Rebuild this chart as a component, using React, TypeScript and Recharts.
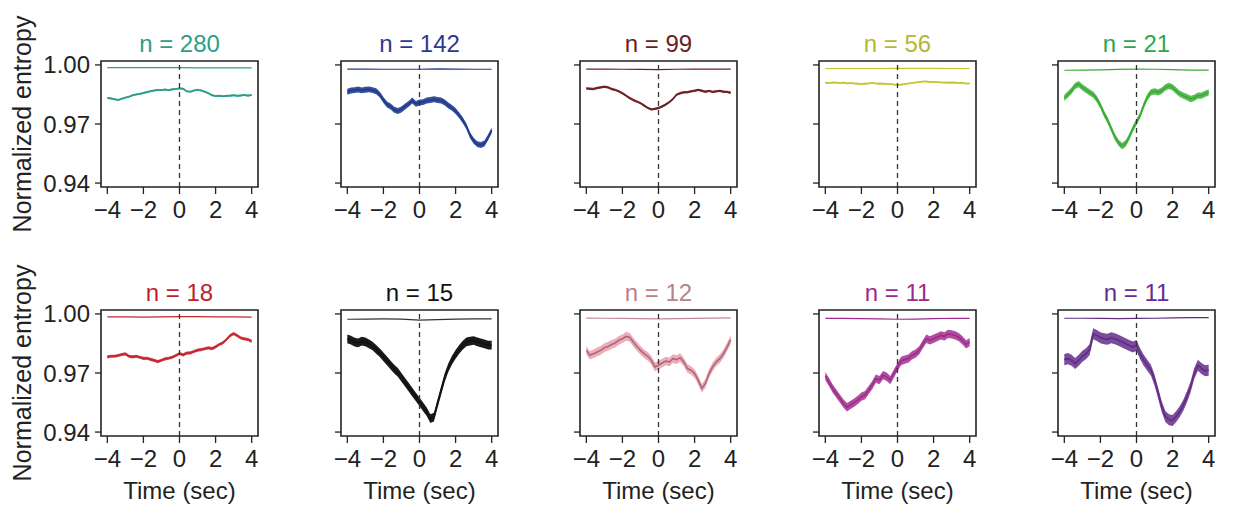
import React from 'react';
import {
  ComposedChart, Area, Line, XAxis, YAxis, ReferenceLine, ReferenceArea,
} from 'recharts';

// time grid (sec) for the mean traces, and a coarse grid for the shuffled baselines
const TIME = [
  -4, -3.8, -3.6, -3.4, -3.2, -3, -2.8, -2.6, -2.4, -2.2, -2, -1.8, -1.6, -1.4, -1.2, -1, -0.8, -0.6, -0.4, -0.2,
  0, 0.2, 0.4, 0.6, 0.8, 1, 1.2, 1.4, 1.6, 1.8, 2, 2.2, 2.4, 2.6, 2.8, 3, 3.2, 3.4, 3.6, 3.8, 4,
];
const BASE_TIME = [-4, -3, -2, -1, 0, 1, 2, 3, 4];
const X_TICKS = [-4, -2, 0, 2, 4];
const Y_TICKS = [0.94, 0.97, 1.0];
const COUNTS = [280, 142, 99, 56, 21, 18, 15, 12, 11, 11];

const meanTeal = [
  0.9832, 0.9830, 0.9826, 0.9822, 0.9828, 0.9834, 0.9838, 0.9846, 0.9850, 0.9853, 0.9857, 0.9862, 0.9866, 0.9870,
  0.9873, 0.9872, 0.9875, 0.9872, 0.9876, 0.9878, 0.9881, 0.9879, 0.9866, 0.9864, 0.9870, 0.9874, 0.9870, 0.9864,
  0.9856, 0.9846, 0.9842, 0.9843, 0.9841, 0.9843, 0.9844, 0.9846, 0.9843, 0.9845, 0.9847, 0.9844, 0.9848,
];
const meanBlue = [
  0.9864, 0.9870, 0.9872, 0.9875, 0.9871, 0.9874, 0.9876, 0.9872, 0.9866, 0.9849, 0.9822, 0.9799, 0.9789, 0.9772,
  0.9766, 0.9774, 0.9789, 0.9802, 0.9819, 0.9802, 0.9809, 0.9811, 0.9819, 0.9822, 0.9826, 0.9822, 0.9819, 0.9809,
  0.9794, 0.9782, 0.9766, 0.9744, 0.9719, 0.9688, 0.9643, 0.9615, 0.9598, 0.9593, 0.9601, 0.9632, 0.9668,
];
const meanMaroon = [
  0.9881, 0.9879, 0.9878, 0.9883, 0.9886, 0.9889, 0.9886, 0.9878, 0.9873, 0.9866, 0.9856, 0.9844, 0.9832, 0.9822,
  0.9814, 0.9806, 0.9794, 0.9782, 0.9774, 0.9777, 0.9781, 0.9789, 0.9799, 0.9811, 0.9827, 0.9849, 0.9856, 0.9861,
  0.9861, 0.9866, 0.9869, 0.9873, 0.9869, 0.9864, 0.9868, 0.9863, 0.9866, 0.9868, 0.9864, 0.9863, 0.9859,
];
const meanOlive = [
  0.9910, 0.9908, 0.9910, 0.9911, 0.9908, 0.9910, 0.9906, 0.9908, 0.9906, 0.9905, 0.9903, 0.9905, 0.9906, 0.9908,
  0.9906, 0.9905, 0.9905, 0.9903, 0.9903, 0.9901, 0.9898, 0.9900, 0.9903, 0.9906, 0.9908, 0.9911, 0.9913, 0.9916,
  0.9916, 0.9914, 0.9913, 0.9913, 0.9911, 0.9911, 0.9910, 0.9910, 0.9910, 0.9908, 0.9908, 0.9906, 0.9906,
];
const meanGreen = [
  0.9833, 0.9850, 0.9869, 0.9894, 0.9903, 0.9886, 0.9873, 0.9861, 0.9849, 0.9827, 0.9794, 0.9752, 0.9719, 0.9677,
  0.9635, 0.9605, 0.9588, 0.9601, 0.9635, 0.9677, 0.9710, 0.9744, 0.9794, 0.9836, 0.9861, 0.9866, 0.9861, 0.9869,
  0.9886, 0.9894, 0.9886, 0.9869, 0.9853, 0.9844, 0.9836, 0.9827, 0.9833, 0.9844, 0.9844, 0.9853, 0.9861,
];
const meanRed = [
  0.9782, 0.9785, 0.9785, 0.9789, 0.9794, 0.9797, 0.9785, 0.9782, 0.9785, 0.9780, 0.9774, 0.9775, 0.9769, 0.9764,
  0.9758, 0.9765, 0.9772, 0.9775, 0.9780, 0.9789, 0.9799, 0.9792, 0.9801, 0.9802, 0.9809, 0.9816, 0.9819, 0.9823,
  0.9828, 0.9824, 0.9833, 0.9845, 0.9853, 0.9870, 0.9890, 0.9900, 0.9890, 0.9878, 0.9873, 0.9870, 0.9861,
];
const meanBlack = [
  0.9873, 0.9867, 0.9857, 0.9853, 0.9862, 0.9858, 0.9848, 0.9837, 0.9820, 0.9803, 0.9782, 0.9762, 0.9740, 0.9720,
  0.9703, 0.9678, 0.9653, 0.9628, 0.9603, 0.9578, 0.9553, 0.9528, 0.9503, 0.9468, 0.9476, 0.9545, 0.9612, 0.9678,
  0.9728, 0.9765, 0.9795, 0.9820, 0.9842, 0.9858, 0.9862, 0.9865, 0.9858, 0.9853, 0.9848, 0.9842, 0.9842,
];
const meanPink = [
  0.9815, 0.9790, 0.9798, 0.9807, 0.9815, 0.9829, 0.9835, 0.9845, 0.9852, 0.9866, 0.9874, 0.9886, 0.9882, 0.9857,
  0.9835, 0.9815, 0.9798, 0.9785, 0.9765, 0.9731, 0.9739, 0.9751, 0.9761, 0.9756, 0.9773, 0.9768, 0.9778, 0.9756,
  0.9723, 0.9714, 0.9697, 0.9664, 0.9622, 0.9647, 0.9697, 0.9731, 0.9756, 0.9773, 0.9798, 0.9832, 0.9869,
];
const meanMagenta = [
  0.9684, 0.9655, 0.9622, 0.9597, 0.9571, 0.9546, 0.9526, 0.9538, 0.9550, 0.9563, 0.9580, 0.9588, 0.9613, 0.9639,
  0.9672, 0.9664, 0.9689, 0.9681, 0.9664, 0.9697, 0.9731, 0.9761, 0.9768, 0.9773, 0.9790, 0.9798, 0.9815, 0.9845,
  0.9874, 0.9866, 0.9874, 0.9882, 0.9891, 0.9886, 0.9899, 0.9896, 0.9891, 0.9882, 0.9866, 0.9845, 0.9857,
];
const meanPurple = [
  0.9768, 0.9773, 0.9765, 0.9748, 0.9765, 0.9785, 0.9798, 0.9818, 0.9899, 0.9891, 0.9879, 0.9874, 0.9871, 0.9879,
  0.9874, 0.9866, 0.9857, 0.9849, 0.9840, 0.9832, 0.9840, 0.9798, 0.9765, 0.9739, 0.9714, 0.9664, 0.9597, 0.9529,
  0.9479, 0.9462, 0.9459, 0.9479, 0.9504, 0.9538, 0.9580, 0.9630, 0.9697, 0.9739, 0.9723, 0.9711, 0.9714,
];

// shuffled-control baselines
const baseTeal = [0.9986, 0.9986, 0.9986, 0.9986, 0.9986, 0.9985, 0.9985, 0.9985, 0.9985];
const baseBlue = [0.9979, 0.9979, 0.9978, 0.9978, 0.9978, 0.998, 0.9979, 0.9978, 0.9978];
const baseMaroon = [0.9979, 0.9979, 0.9978, 0.9977, 0.9976, 0.9978, 0.9979, 0.9979, 0.9979];
const baseOlive = [0.9982, 0.9982, 0.9982, 0.9982, 0.9983, 0.9983, 0.9983, 0.9982, 0.9982];
const baseGreen = [0.9973, 0.9974, 0.9975, 0.9977, 0.9979, 0.9978, 0.9976, 0.9974, 0.9974];
const baseRed = [0.9985, 0.9985, 0.9984, 0.9985, 0.9986, 0.9986, 0.9985, 0.9985, 0.9984];
const baseBlack = [0.9973, 0.9974, 0.9975, 0.9974, 0.9969, 0.9971, 0.9974, 0.9975, 0.9975];
const basePink = [0.9979, 0.9978, 0.9977, 0.9976, 0.9975, 0.9976, 0.9977, 0.9979, 0.998];
const baseMagenta = [0.9977, 0.9977, 0.9976, 0.9975, 0.9973, 0.9974, 0.9976, 0.9978, 0.9977];
const basePurple = [0.9978, 0.9978, 0.9977, 0.9976, 0.9977, 0.9978, 0.998, 0.9981, 0.9981];

// s.e.m. half-width of each shaded band
const SEMS = [0.0005, 0.0015, 0.0006, 0.0004, 0.0016, 0.0008, 0.0022, 0.0022, 0.0021, 0.0028];

const MEANS = [meanTeal, meanBlue, meanMaroon, meanOlive, meanGreen, meanRed, meanBlack, meanPink, meanMagenta, meanPurple];
const BASES = [baseTeal, baseBlue, baseMaroon, baseOlive, baseGreen, baseRed, baseBlack, basePink, baseMagenta, basePurple];

const LINE_COLORS = ['#2a9d8a', '#24398a', '#6d1f24', '#c4c42c', '#3aaa35', '#c1272d', '#111111', '#a86a78', '#9e2a8a', '#5f2c82'];
const BAND_COLORS = ['#4fb3a2', '#34509e', '#843a3e', '#cfcf4e', '#5cbd56', '#d24a50', '#1a1a1a', '#eeabb8', '#b04fa0', '#7b4c9d'];
const TITLE_COLORS = ['#2e9c8a', '#2b3990', '#6b1d22', '#b5b833', '#2ba84a', '#be1e2d', '#111111', '#b98189', '#9b2b8c', '#662d91'];
const BASE_COLORS = ['#2a9d8a', '#24398a', '#6d1f24', '#c4c42c', '#3aaa35', '#c1272d', '#333333', '#c08a94', '#9e2a8a', '#5f2c82'];

const COL_LEFT = [0, 240, 479, 718, 957];
const ROW_TOP = [0, 249];
const X_DOMAIN: [number, number] = [-4.35, 4.35];
const Y_DOMAIN: [number, number] = [0.938, 1.002];
const FONT = 24;
const INK = '#222';

const fmtX = (v: number) => (v < 0 ? '\u2212' + Math.abs(v) : String(v));

const Panel = ({ idx }: { idx: number }) => {
  const row = Math.floor(idx / 5);
  const col = idx % 5;
  const mean = MEANS[idx];
  const sem = SEMS[idx];
  const rows = TIME.map((t, i) => ({ t, mean: mean[i], band: [mean[i] - sem, mean[i] + sem] }));
  const baseRows = BASE_TIME.map((t, i) => ({ t, base: BASES[idx][i] }));

  return (
    <div style={{ position: 'absolute', left: COL_LEFT[col], top: ROW_TOP[row] }}>
      <ComposedChart width={276} height={265} data={rows} margin={{ top: 61, right: 18, bottom: 8, left: 0 }}>
        <XAxis
          dataKey="t"
          type="number"
          domain={X_DOMAIN}
          allowDataOverflow
          ticks={X_TICKS}
          tickFormatter={fmtX}
          axisLine={false}
          tickLine={{ stroke: INK, strokeWidth: 1.3 }}
          tickSize={7}
          tickMargin={7}
          tick={{ fontSize: FONT, fill: INK }}
          height={70}
          label={row === 1 ? { value: 'Time (sec)', position: 'insideBottom', offset: 7, fontSize: FONT, fill: INK } : undefined}
        />
        <YAxis
          type="number"
          domain={Y_DOMAIN}
          allowDataOverflow
          ticks={Y_TICKS}
          tickFormatter={(v: number) => (col === 0 ? v.toFixed(2) : '')}
          axisLine={false}
          tickLine={{ stroke: INK, strokeWidth: 1.3 }}
          tickSize={6}
          tickMargin={5}
          tick={{ fontSize: FONT, fill: INK }}
          width={101}
          label={col === 0 ? {
            value: 'Normalized entropy', angle: -90, position: 'insideLeft', offset: 22,
            fontSize: 25, fill: INK, style: { textAnchor: 'middle' },
          } : undefined}
        />
        <ReferenceArea
          x1={X_DOMAIN[0]} x2={X_DOMAIN[1]} y1={Y_DOMAIN[0]} y2={Y_DOMAIN[1]}
          fill="none" stroke={INK} strokeWidth={1.6}
          label={{ value: `n = ${COUNTS[idx]}`, position: 'top', offset: 9, fontSize: FONT, fill: TITLE_COLORS[idx] }}
        />
        <Area dataKey="band" stroke="none" fill={BAND_COLORS[idx]} fillOpacity={1} isAnimationActive={false} />
        <Line dataKey="mean" stroke={LINE_COLORS[idx]} strokeWidth={1.6} dot={false} isAnimationActive={false} />
        <Line data={baseRows} dataKey="base" stroke={BASE_COLORS[idx]} strokeWidth={1.2} dot={false} isAnimationActive={false} />
        <ReferenceLine x={0} stroke="#333" strokeWidth={1.3} strokeDasharray="5 4" />
      </ComposedChart>
    </div>
  );
}

export default function App() {
  return (
    <div
      style={{
        position: 'absolute', left: 0, top: 0, width: 1233, height: 514,
        background: '#fff', fontFamily: '"Liberation Sans", Arial, sans-serif',
      }}
    >
      {COUNTS.map((_, i) => <Panel key={i} idx={i} />)}
    </div>
  );
}
